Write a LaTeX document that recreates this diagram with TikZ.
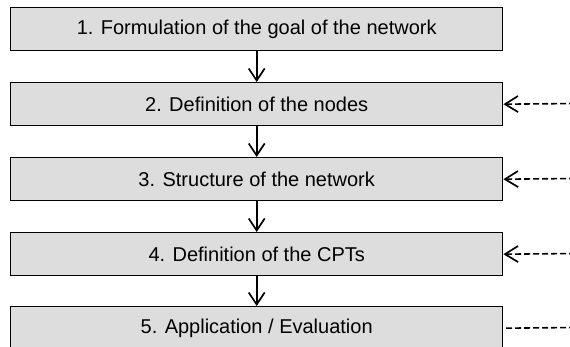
\documentclass[tikz,border=0pt]{standalone}
\usepackage{fontspec}
\setmainfont{Liberation Sans}
\usetikzlibrary{arrows.meta}
\begin{document}
\begin{tikzpicture}[x=1pt,y=-1pt,
  stepbox/.style={draw=black,line width=1.4pt,fill=boxgray,minimum width=492pt,minimum height=43pt,inner sep=0pt,font=\fontsize{20}{24}\selectfont,anchor=north west},
  flow/.style={line width=1.7pt,-{Straight Barb[length=12pt,width=16pt,line width=1.7pt]}},
  feed/.style={line width=1.6pt,dash pattern=on 6pt off 3pt},
  feedarrow/.style={feed,-{Straight Barb[length=13pt,width=16pt,line width=1.7pt,line cap=butt]}}]
\definecolor{boxgray}{HTML}{DDDDDD}
\useasboundingbox (0,0) rectangle (570,347);
\clip (0,0) rectangle (570,347);
\fill[white] (0,0) rectangle (570,347);
\node[stepbox] (s1) at (10,7) {1. Formulation of the goal of the network};
\node[stepbox] (s2) at (10,82) {2. Definition of the nodes};
\node[stepbox] (s3) at (10,157) {3. Structure of the network};
\node[stepbox] (s4) at (10,232) {4. Definition of the CPTs};
\node[stepbox] (s5) at (10,306) {5. Application / Evaluation};
\draw[flow] (s1) -- (s2);
\draw[flow] (s2) -- (s3);
\draw[flow] (s3) -- (s4);
\draw[flow] (s4) -- (s5);
\coordinate (r2) at (575,103.5);
\coordinate (r3) at (575,178.5);
\coordinate (r4) at (575,253.5);
\coordinate (r5) at (575,327.5);
\draw[feedarrow] (r2) -- (s2.east);
\draw[feedarrow] (r3) -- (s3.east);
\draw[feedarrow] (r4) -- (s4.east);
\draw[feed] (r5) -- (s5.east);
\end{tikzpicture}
\end{document}
